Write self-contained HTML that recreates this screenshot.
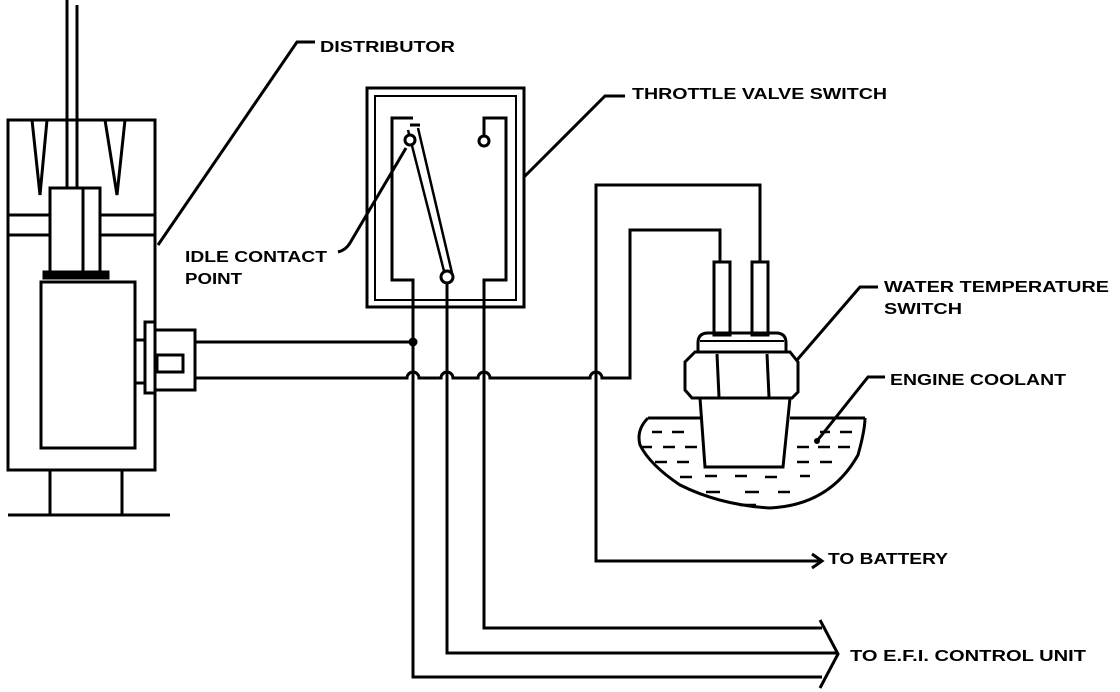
<!DOCTYPE html>
<html><head><meta charset="utf-8"><style>html,body{margin:0;padding:0;background:#fff}svg{display:block}text{font-family:"Liberation Sans",sans-serif;font-weight:bold;font-size:16px;fill:#000}</style></head>
<body>
<svg width="1120" height="692" viewBox="0 0 1120 692" xmlns="http://www.w3.org/2000/svg">
<g fill="none" stroke="#000" stroke-width="3" stroke-linejoin="miter">
<!-- distributor -->
<line x1="67" y1="0" x2="67" y2="188"/><line x1="77" y1="5" x2="77" y2="188"/>
<path d="M8,120 H155 V470 H8 Z"/>
<path d="M32,120 L40,195 L47,120"/><path d="M105,120 L117,195 L125,120"/>
<line x1="8" y1="215" x2="50" y2="215"/><line x1="100" y1="215" x2="155" y2="215"/>
<line x1="8" y1="235" x2="50" y2="235"/><line x1="100" y1="235" x2="155" y2="235"/>
<rect x="50" y="188" width="50" height="84"/><line x1="83" y1="188" x2="83" y2="272"/>
<rect x="44" y="272" width="64" height="6" fill="#000"/>
<rect x="41" y="282" width="94" height="166"/>
<line x1="50" y1="470" x2="50" y2="515"/><line x1="122" y1="470" x2="122" y2="515"/>
<line x1="8" y1="515" x2="170" y2="515"/>
<rect x="145" y="322" width="10" height="71"/>
<rect x="155" y="330" width="40" height="60"/>
<rect x="157" y="355" width="26" height="17"/>
<line x1="135" y1="340" x2="145" y2="340"/><line x1="135" y1="383" x2="145" y2="383"/>
<line x1="195" y1="342" x2="413" y2="342"/>
<path d="M195,378 H407 a6,6 0 0 1 12,0 H441 a6,6 0 0 1 12,0 H478 a6,6 0 0 1 12,0 H590 a6,6 0 0 1 12,0 H630 V230 H720 V262"/>
<circle cx="413" cy="342" r="3" fill="#000"/>
<path d="M158,245 L297,42 H315"/>
<!-- throttle switch -->
<rect x="367" y="88" width="157" height="219"/>
<rect x="375" y="96" width="141" height="204" stroke-width="2"/>
<path d="M413,118 H392 V280 H413 V677 H822"/>
<path d="M484,140 V118 H506 V280 H484 V628 H822"/>
<circle cx="484" cy="141" r="5" fill="#fff"/>
<path d="M408,130 L445,275 M418,128 L452,273" stroke-width="2.5"/>
<path d="M410,125 L420,125" />
<circle cx="410" cy="140" r="5" fill="#fff"/>
<path d="M447,283 V653 H838"/>
<circle cx="447" cy="277" r="6" fill="#fff"/>
<path d="M524,177 L605,96 H625"/>
<path d="M406,148 L350,243 Q346,250 338,252"/>
<path d="M820,620 L838,654 L820,688"/>
<!-- battery -->
<path d="M596,378 V185 H760 V262"/>
<path d="M596,378 V561 H822"/>
<path d="M812,554 L822,561 L812,568"/>
<!-- water temp switch -->
<rect x="714" y="262" width="16" height="73"/><rect x="752" y="262" width="16" height="73"/>
<path d="M698,352 V343 Q698,333 708,333 H776 Q786,333 786,343 V352"/>
<line x1="700" y1="341" x2="784" y2="341" stroke-width="2"/>
<path d="M695,352 H790 L798,362 V392 L792,398 H692 L685,390 V362 Z"/>
<line x1="717" y1="354" x2="719" y2="397"/><line x1="767" y1="354" x2="769" y2="397"/>
<path d="M700,398 L705,467 H783 L790,398"/>
<line x1="648" y1="418" x2="700" y2="418"/><line x1="790" y1="418" x2="865" y2="418"/>
<path d="M648,418 Q636,430 640,445 Q650,465 680,485 Q720,505 770,508 Q830,505 858,455 Q865,430 865,418"/>
<g stroke-width="2.5">
<path d="M652,432 h10 M672,432 h12 M820,432 h10 M840,432 h12 M640,447 h12 M663,447 h12 M685,447 h12 M797,447 h12 M818,447 h12 M838,447 h12 M655,462 h12 M677,462 h12 M797,462 h12 M820,462 h12 M680,477 h12 M705,476 h12 M735,476 h12 M765,477 h12 M800,476 h10 M706,492 h14 M745,492 h14 M778,492 h12 M740,505 h16"/>
</g>
<path d="M797,360 L860,287 H878"/>
<path d="M817,441 L868,377 H885"/>
</g>
<circle cx="817" cy="441" r="3"/>
<text x="320" y="52" textLength="135" lengthAdjust="spacingAndGlyphs">DISTRIBUTOR</text>
<text x="632" y="99" textLength="255" lengthAdjust="spacingAndGlyphs">THROTTLE VALVE SWITCH</text>
<text x="185" y="262" textLength="142" lengthAdjust="spacingAndGlyphs">IDLE CONTACT</text>
<text x="185" y="284" textLength="57" lengthAdjust="spacingAndGlyphs">POINT</text>
<text x="884" y="292" textLength="225" lengthAdjust="spacingAndGlyphs">WATER TEMPERATURE</text>
<text x="884" y="314" textLength="78" lengthAdjust="spacingAndGlyphs">SWITCH</text>
<text x="890" y="385" textLength="176" lengthAdjust="spacingAndGlyphs">ENGINE COOLANT</text>
<text x="828" y="564" textLength="120" lengthAdjust="spacingAndGlyphs">TO BATTERY</text>
<text x="850" y="661" textLength="236" lengthAdjust="spacingAndGlyphs">TO  E.F.I. CONTROL UNIT</text>
</svg>
</body></html>
